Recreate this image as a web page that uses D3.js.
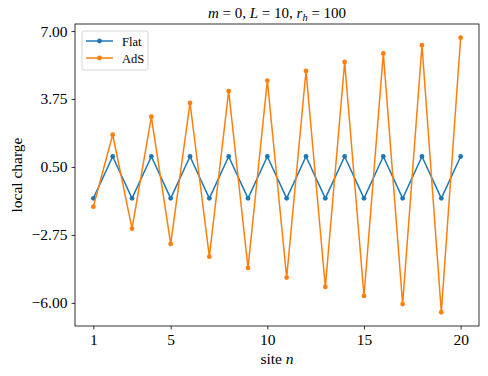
<!DOCTYPE html>
<html>
<head>
<meta charset="utf-8">
<script src="https://cdn.jsdelivr.net/npm/d3@7"></script>
<style>
  body { margin: 0; background: #fff; }
  svg { font-family: "Liberation Serif", "DejaVu Serif", serif; }
</style>
</head>
<body>
<div class="canvas"></div>
<script>
// data
const sites = d3.range(1, 21)
const flat = [-1, 1, -1, 1, -1, 1, -1, 1, -1, 1, -1, 1, -1, 1, -1, 1, -1, 1, -1, 1]
const ads = [-1.40, 2.04, -2.45, 2.90, -3.18, 3.56, -3.79, 4.13, -4.33, 4.63,
             -4.79, 5.09, -5.24, 5.52, -5.67, 5.93, -6.06, 6.32, -6.45, 6.68]
const xTicks = [1, 5, 10, 15, 20]
const yTicks = [7.00, 3.75, 0.50, -2.75, -6.00]

const series = [
    { name: 'Flat', values: flat, color: '#1f77b4' },
    { name: 'AdS', values: ads, color: '#ff7f0e' }
]

const width = 488, height = 376
const margin = { top: 24, right: 9, bottom: 50, left: 75 }
const graphWidth = width - margin.left - margin.right
const graphHeight = height - margin.top - margin.bottom

const svg = d3.select('.canvas').append('svg')
    .attr('width', width)
    .attr('height', height)

const graph = svg.append('g')
    .attr('transform', `translate(${margin.left}, ${margin.top})`)

// 5% padding like matplotlib
const allY = flat.concat(ads)
const yMin = d3.min(allY), yMax = d3.max(allY)
const yPad = (yMax - yMin) * 0.05
const x = d3.scaleLinear()
    .domain([1 - 19 * 0.05, 20 + 19 * 0.05])
    .range([0, graphWidth])
const y = d3.scaleLinear()
    .domain([yMin - yPad, yMax + yPad])
    .range([graphHeight, 0])

const line = d3.line()
    .x((d, i) => x(sites[i]))
    .y((d) => y(d))

series.forEach((s) => {
    graph.append('path')
        .attr('d', line(s.values))
        .attr('fill', 'none')
        .attr('stroke', s.color)
        .attr('stroke-width', 1.5)
        .attr('stroke-linejoin', 'round')
    graph.selectAll(null)
        .data(s.values)
        .enter()
        .append('circle')
        .attr('cx', (d, i) => x(sites[i]))
        .attr('cy', (d) => y(d))
        .attr('r', 2.4)
        .attr('fill', s.color)
})

// axes
const xAxis = d3.axisBottom(x).tickValues(xTicks).tickSize(3.5).tickPadding(4)
const yAxis = d3.axisLeft(y).tickValues(yTicks).tickSize(3.5).tickPadding(4)
    .tickFormat(d3.format('.2f'))

const xAxisGroup = graph.append('g')
    .attr('transform', `translate(0, ${graphHeight})`)
    .call(xAxis)
const yAxisGroup = graph.append('g').call(yAxis)

;[xAxisGroup, yAxisGroup].forEach((g) => {
    g.select('.domain').remove()
    g.selectAll('line').attr('stroke', '#000').attr('stroke-width', 0.8)
    g.selectAll('text')
        .attr('font-family', '"Liberation Serif", serif')
        .attr('font-size', 15.5)
        .attr('fill', '#000')
})
yAxisGroup.selectAll('text').text((d) => d3.format('.2f')(d).replace('-', '\u2212'))

// frame
graph.append('rect')
    .attr('width', graphWidth)
    .attr('height', graphHeight)
    .attr('fill', 'none')
    .attr('stroke', '#000')
    .attr('stroke-width', 0.8)

// title
const title = svg.append('text')
    .attr('x', margin.left + graphWidth / 2)
    .attr('y', 18)
    .attr('text-anchor', 'middle')
    .attr('font-size', 15)
title.append('tspan').attr('font-style', 'italic').text('m')
title.append('tspan').text(' = 0,  ')
title.append('tspan').attr('font-style', 'italic').text('L')
title.append('tspan').text(' = 10,  ')
title.append('tspan').attr('font-style', 'italic').text('r')
title.append('tspan').attr('font-style', 'italic').attr('font-size', 10.5).attr('dy', 3).text('h')
title.append('tspan').attr('dy', -3).text(' = 100')

// axis labels
const xLabel = svg.append('text')
    .attr('x', margin.left + graphWidth / 2)
    .attr('y', 364)
    .attr('text-anchor', 'middle')
    .attr('font-size', 15.5)
xLabel.append('tspan').text('site ')
xLabel.append('tspan').attr('font-style', 'italic').text('n')

svg.append('text')
    .attr('transform', `translate(22, ${margin.top + graphHeight / 2}) rotate(-90)`)
    .attr('text-anchor', 'middle')
    .attr('font-size', 15.5)
    .text('local charge')

// legend
const legend = graph.append('g').attr('transform', 'translate(7, 7)')
legend.append('rect')
    .attr('width', 66)
    .attr('height', 39)
    .attr('rx', 2)
    .attr('fill', '#fff')
    .attr('fill-opacity', 0.8)
    .attr('stroke', '#ccc')
    .attr('stroke-width', 0.8)
series.forEach((s, i) => {
    const row = legend.append('g').attr('transform', `translate(0, ${10 + i * 17})`)
    row.append('line')
        .attr('x1', 4).attr('x2', 31)
        .attr('stroke', s.color).attr('stroke-width', 1.5)
    row.append('circle').attr('cx', 17.5).attr('r', 2.4).attr('fill', s.color)
    row.append('text')
        .attr('x', 40).attr('y', 4.5)
        .attr('font-size', 12.5)
        .text(s.name)
})
</script>
</body>
</html>
